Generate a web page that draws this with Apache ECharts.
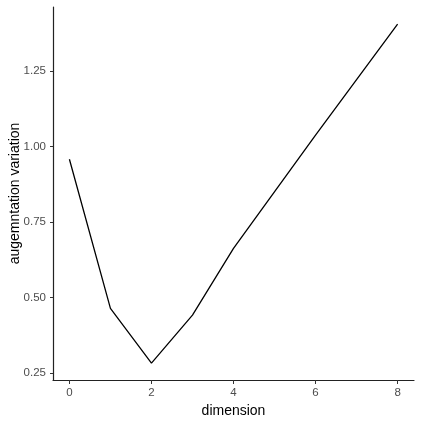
<!DOCTYPE html>
<html>
<head>
<meta charset="utf-8">
<script src="https://cdn.jsdelivr.net/npm/echarts@6/dist/echarts.min.js"></script>
<style>
  html, body { margin: 0; padding: 0; background: #fff; }
  #chart { width: 423px; height: 423px; }
</style>
</head>
<body>
<div id="chart"></div>
<script>
// values
const dimension = [0, 1, 2, 3, 4, 6, 8];
const variation = [0.958, 0.464, 0.283, 0.442, 0.663, 1.038, 1.405];
const xTicks = [0, 2, 4, 6, 8];
const yTicks = [0.25, 0.5, 0.75, 1.0, 1.25];

const chart = echarts.init(document.getElementById('chart'));

const axisText = { color: '#4d4d4d', fontSize: 11.5, fontFamily: 'Liberation Sans, Arial, sans-serif' };
const titleText = { color: '#000', fontSize: 14, fontFamily: 'Liberation Sans, Arial, sans-serif' };

chart.setOption({
  animation: false,
  grid: { left: 53, right: 9, top: 7, bottom: 43, outerBoundsMode: 'none' },
  xAxis: {
    type: 'value',
    min: -0.4,
    max: 8.4,
    name: 'dimension',
    nameLocation: 'middle',
    nameGap: 24,
    nameMoveOverlap: false,
    nameTextStyle: titleText,
    axisLine: { onZero: false, lineStyle: { color: '#222', width: 1.2 } },
    axisTick: { show: true, customValues: xTicks, length: 4, lineStyle: { color: '#333' } },
    axisLabel: { customValues: xTicks, margin: 7, ...axisText },
    splitLine: { show: false }
  },
  yAxis: {
    type: 'value',
    min: 0.227,
    max: 1.462,
    name: 'augemntation variation',
    nameLocation: 'middle',
    nameGap: 31,
    nameMoveOverlap: false,
    nameTextStyle: titleText,
    axisLine: { show: true, onZero: false, lineStyle: { color: '#222', width: 1.2 } },
    axisTick: { show: true, customValues: yTicks, length: 3, lineStyle: { color: '#333' } },
    axisLabel: {
      customValues: yTicks,
      margin: 7,
      formatter: v => v.toFixed(2),
      ...axisText
    },
    splitLine: { show: false }
  },
  series: [
    {
      type: 'line',
      data: dimension.map((d, i) => [d, variation[i]]),
      showSymbol: false,
      lineStyle: { color: '#000', width: 1.3 }
    }
  ]
});
</script>
</body>
</html>
